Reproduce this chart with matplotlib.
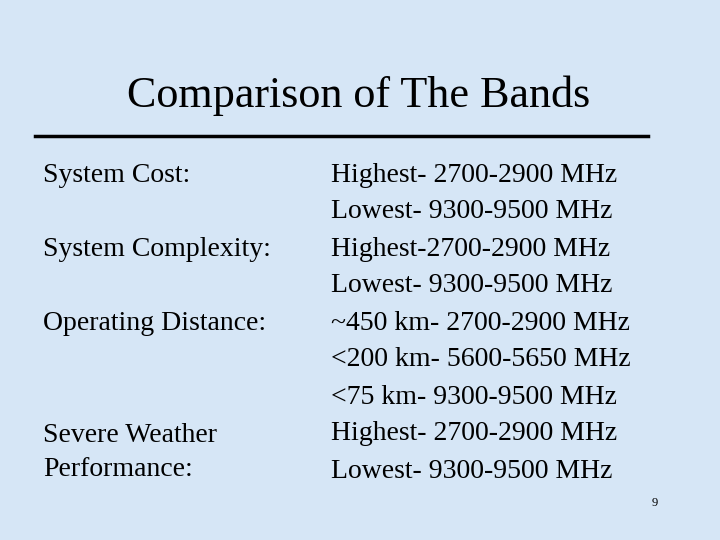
import matplotlib
matplotlib.use("Agg")
import matplotlib.pyplot as plt

title = "Comparison of The Bands"
left_labels = ["System Cost:", "System Complexity:", "Operating Distance:", "Severe Weather", "Performance:"]
left_y = [175, 249, 323, 435, 469]
right_lines = ["Highest- 2700-2900 MHz", "Lowest- 9300-9500 MHz", "Highest-2700-2900 MHz",
               "Lowest- 9300-9500 MHz", "~450 km- 2700-2900 MHz", "<200 km- 5600-5650 MHz",
               "<75 km- 9300-9500 MHz", "Highest- 2700-2900 MHz", "Lowest- 9300-9500 MHz"]
page = "9"

fig = plt.figure(figsize=(7.2, 5.4), dpi=100)
fig.patch.set_facecolor("#d6e6f6")
ax = fig.add_axes([0, 0, 1, 1])
ax.set_xlim(0, 720); ax.set_ylim(540, 0); ax.axis("off")
ff = "Liberation Serif"
ax.text(359, 96, title, fontsize=31.8, family=ff, ha="center", va="center")
ax.plot([35, 648], [136, 136], color="black", lw=2.5)
for lab, y in zip(left_labels, left_y):
    ax.text(43, y, lab, fontsize=20, family=ff, ha="left", va="center")
for i, t in enumerate(right_lines):
    ax.text(331, 175 + i * 37, t, fontsize=20, family=ff, ha="left", va="center")
ax.text(655, 503, page, fontsize=9, family=ff, ha="center", va="center")
fig.savefig("out.png", dpi=100, facecolor=fig.get_facecolor())
